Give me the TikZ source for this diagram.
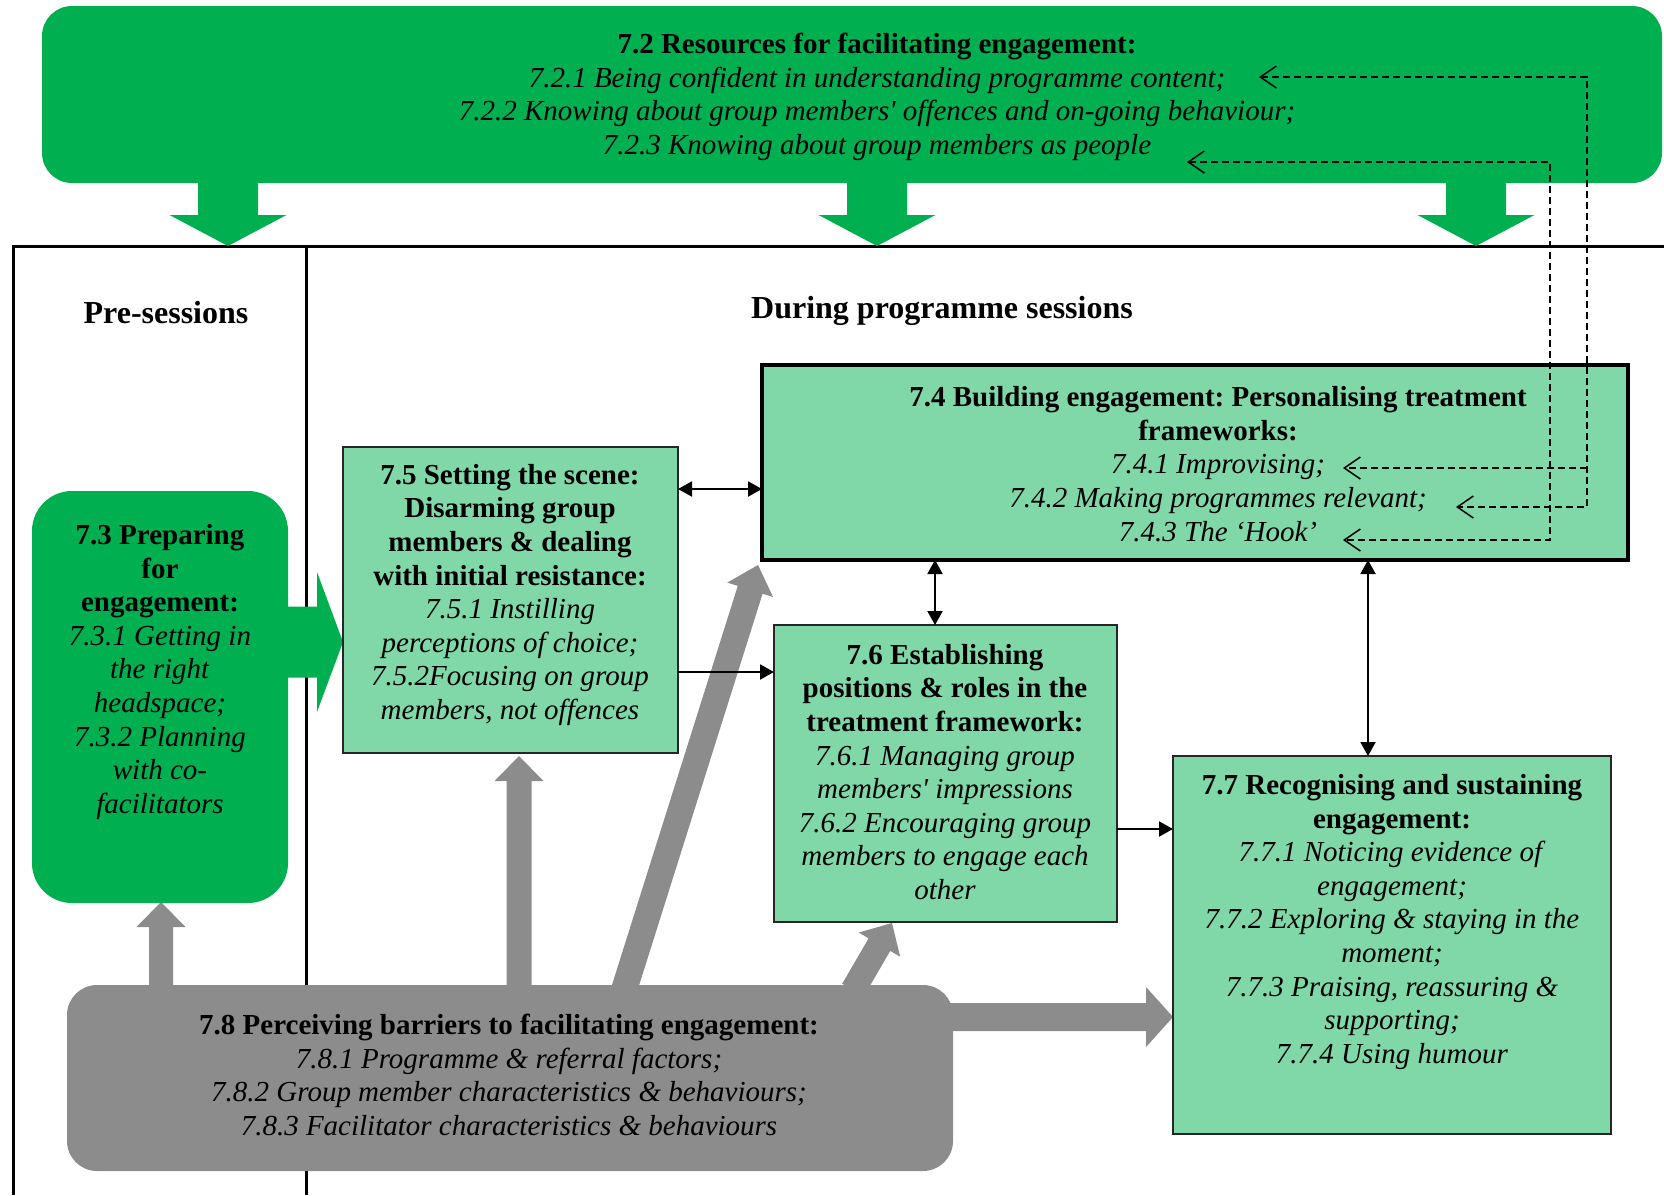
\documentclass[tikz,border=0pt]{standalone}
\usepackage{fontspec}
\setmainfont{Liberation Serif}
\usetikzlibrary{arrows.meta,calc,fit}

\definecolor{dkgreen}{HTML}{00B050}
\definecolor{ltgreen}{HTML}{80D8A8}
\definecolor{barrier}{HTML}{8C8C8C}

% Block arrow as a filled polygon:
% #1 style, #2 start coordinate, #3 tip coordinate,
% #4 half shaft width, #5 half head width, #6 head length
\newcommand\blockarrow[6]{%
  \coordinate (bahead) at ($(#3)!#6!(#2)$);
  \fill[#1] ($(#2)!#4!90:(#3)$) -- ($(bahead)!#4!90:(#3)$)
    -- ($(bahead)!#5!90:(#3)$) -- (#3) -- ($(bahead)!#5!-90:(#3)$)
    -- ($(bahead)!#4!-90:(#3)$) -- ($(#2)!#4!-90:(#3)$) -- cycle;}

\frenchspacing
\begin{document}
\begin{tikzpicture}[x=0.5pt,y=-0.5pt,
  frame/.style={line width=1.5pt, draw=black},
  box72/.style={fill=dkgreen, rounded corners=15pt, inner sep=0pt, outer sep=0pt},
  box73/.style={fill=dkgreen, rounded corners=20pt, inner sep=0pt, outer sep=0pt},
  box74/.style={fill=ltgreen, draw=black, line width=2pt, inner sep=0pt, outer sep=0pt},
  stagebox/.style={fill=ltgreen, draw=black!85, line width=0.6pt, inner sep=0pt, outer sep=0pt},
  box78/.style={fill=barrier, rounded corners=15pt, inner sep=0pt, outer sep=0pt},
  txt/.style={align=center, inner sep=0pt, font=\fontsize{14.5}{16.8}\selectfont\frenchspacing},
  heading/.style={inner sep=0pt, font=\fontsize{16}{19}\selectfont\bfseries},
  link/.style={line width=1pt, -{Triangle[length=7pt,width=7.5pt]}},
  link2/.style={line width=1pt, {Triangle[length=7pt,width=7.5pt]}-{Triangle[length=7pt,width=7.5pt]}},
  feed/.style={line width=0.75pt, dash pattern=on 3.5pt off 2pt, -{Straight Barb[length=8pt,width=11pt]}},
  feed2/.style={line width=0.75pt, dash pattern=on 3.5pt off 2pt,
    {Straight Barb[length=8pt,width=11pt]}-{Straight Barb[length=8pt,width=11pt]}},
]
\useasboundingbox (0,0) rectangle (1664,1195);

% phase frame
\draw[frame] (13,1195) -- (13,246) -- (1664,246);
\draw[frame] (306,246) -- (306,1195);

% block arrow end points
\coordinate (gd1s) at (228,175);  \coordinate (gd1t) at (228,246);
\coordinate (gd2s) at (877,175);  \coordinate (gd2t) at (877,246);
\coordinate (gd3s) at (1476,175); \coordinate (gd3t) at (1476,246);
\coordinate (grs) at (280,642);   \coordinate (grt) at (343,642);
\coordinate (b3s) at (161,990);   \coordinate (b3t) at (161,902);
\coordinate (b5s) at (519,990);   \coordinate (b5t) at (519,756);
\coordinate (b4s) at (624,990);   \coordinate (b4t) at (758,565);
\coordinate (b6s) at (853,990);   \coordinate (b6t) at (892,923);
\coordinate (b7s) at (940,1017);  \coordinate (b7t) at (1173,1017);

% resources feeding all phases
\blockarrow{dkgreen}{gd1s}{gd1t}{15pt}{29.25pt}{15.5pt}
\blockarrow{dkgreen}{gd2s}{gd2t}{15pt}{29.25pt}{15.5pt}
\blockarrow{dkgreen}{gd3s}{gd3t}{15pt}{29.25pt}{15.5pt}
\blockarrow{dkgreen}{grs}{grt}{17.75pt}{35pt}{13pt}

% barriers acting on each stage
\blockarrow{barrier}{b3s}{b3t}{6pt}{12.25pt}{12.5pt}
\blockarrow{barrier}{b5s}{b5t}{6.25pt}{12.25pt}{12.5pt}
\blockarrow{barrier}{b4s}{b4t}{6.5pt}{12pt}{13pt}
\blockarrow{barrier}{b6s}{b6t}{6.25pt}{12pt}{12.5pt}
\blockarrow{barrier}{b7s}{b7t}{7pt}{15pt}{13.5pt}

% boxes
\node[box72, fit={(42,6) (1662,183)}] (b72) {};
\node[box73, fit={(32,491) (288,903)}] (b73) {};
\node[box74, fit={(762,365) (1628,560)}] (b74) {};
\node[stagebox, fit={(343,447) (678,753)}] (b75) {};
\node[stagebox, fit={(774,625) (1117,922)}] (b76) {};
\node[stagebox, fit={(1173,756) (1611,1134)}] (b77) {};
\node[box78, fit={(67,985) (953,1171)}] (b78) {};

% connectors between stages
\coordinate (h489) at (0,489);
\coordinate (h672) at (0,672);
\coordinate (h829) at (0,829);
\coordinate (v935) at (935,0);
\coordinate (v1368) at (1368,0);
\draw[link2] (b75.east |- h489) -- (b74.west |- h489);
\draw[link] (b75.east |- h672) -- (b76.west |- h672);
\draw[link2] (b74.south -| v935) -- (b76.north -| v935);
\draw[link] (b76.east |- h829) -- (b77.west |- h829);
\draw[link2] (b74.south -| v1368) -- (b77.north -| v1368);

% feedback between resources and personalising
\coordinate (d721) at (1259,77);
\coordinate (d723) at (1187,162);
\coordinate (d741) at (1343,468);
\coordinate (d742) at (1456,507);
\coordinate (d743) at (1343,540);
\coordinate (vout) at (1587,0);
\coordinate (vin) at (1550,0);
\draw[feed2] (d721) -- (vout |- d721) -- (vout |- d742) -- (d742);
\draw[feed] (vout |- d741) -- (d741);
\draw[feed2] (d723) -- (vin |- d723) -- (vin |- d743) -- (d743);

% phase headings
\node[heading] (tpre) at (166,313) {Pre-sessions};
\node[heading] (tdur) at (942,311) {During programme sessions};

% box texts
\node[txt] (t72) at (877,97) {\textbf{7.2 Resources for facilitating engagement:}\\
  \textit{7.2.1 Being confident in understanding programme content;}\\
  \textit{7.2.2 Knowing about group members\textquotesingle{} offences and on-going behaviour;}\\
  \textit{7.2.3 Knowing about group members as people}};

\node[txt] (t73) at (160,672) {\textbf{7.3 Preparing}\\\textbf{for}\\\textbf{engagement:}\\
  \textit{7.3.1 Getting in}\\\textit{the right}\\\textit{headspace;}\\
  \textit{7.3.2 Planning}\\\textit{with co-}\\\textit{facilitators}};

\node[txt] (t74) at (1218,464) {\textbf{7.4 Building engagement: Personalising treatment}\\
  \textbf{frameworks:}\\
  \textit{7.4.1 Improvising;}\\
  \textit{7.4.2 Making programmes relevant;}\\
  \textit{7.4.3 The ‘Hook’}};

\node[txt] (t75) at (510,595) {\textbf{7.5 Setting the scene:}\\\textbf{Disarming group}\\
  \textbf{members \& dealing}\\\textbf{with initial resistance:}\\
  \textit{7.5.1 Instilling}\\\textit{perceptions of choice;}\\
  \textit{7.5.2Focusing on group}\\\textit{members, not offences}};

\node[txt] (t76) at (945,772) {\textbf{7.6 Establishing}\\\textbf{positions \& roles in the}\\
  \textbf{treatment framework:}\\
  \textit{7.6.1 Managing group}\\\textit{members\textquotesingle{} impressions}\\
  \textit{7.6.2 Encouraging group}\\\textit{members to engage each}\\\textit{other}};

\node[txt] (t77) at (1392,922) {\textbf{7.7 Recognising and sustaining}\\\textbf{engagement:}\\
  \textit{7.7.1 Noticing evidence of}\\\textit{engagement;}\\
  \textit{7.7.2 Exploring \& staying in the}\\\textit{moment;}\\
  \textit{7.7.3 Praising, reassuring \&}\\\textit{supporting;}\\
  \textit{7.7.4 Using humour}};

\node[txt] (t78) at (509,1075) {\textbf{7.8 Perceiving barriers to facilitating engagement:}\\
  \textit{7.8.1 Programme \& referral factors;}\\
  \textit{7.8.2 Group member characteristics \& behaviours;}\\
  \textit{7.8.3 Facilitator characteristics \& behaviours}};
\end{tikzpicture}
\end{document}
